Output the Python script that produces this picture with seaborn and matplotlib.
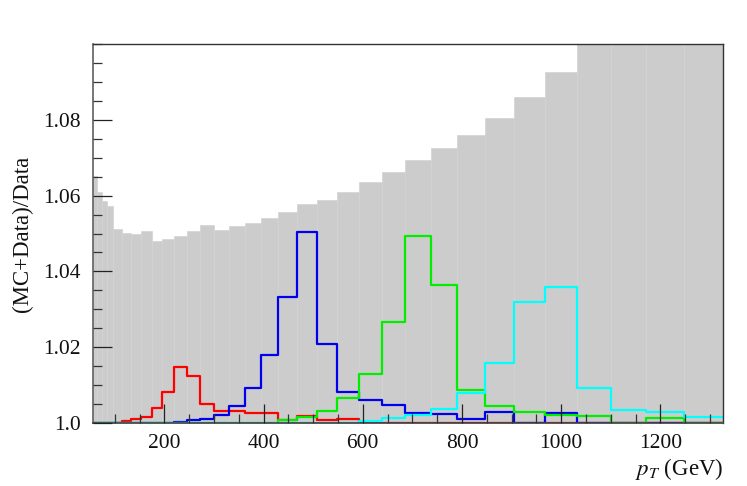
import numpy as np
import pandas as pd
import matplotlib
matplotlib.use('Agg')
import matplotlib.pyplot as plt
import seaborn as sns
from matplotlib.ticker import MultipleLocator, FixedLocator, FixedFormatter

# jet pT bin edges (GeV)
edges = [56, 64, 74, 84, 97, 114, 133, 153, 174, 196, 220, 245, 272, 300, 330,
         362, 395, 430, 468, 507, 548, 592, 638, 686, 737, 790, 846, 905, 967,
         1032, 1101, 1172, 1248, 1327]

# grey band (upper edge)
band = [1.0652, 1.0611, 1.0586, 1.0574, 1.0511, 1.0502, 1.0499, 1.0508, 1.0481,
        1.0485, 1.0493, 1.0507, 1.0523, 1.0509, 1.0521, 1.0529, 1.0540, 1.0557,
        1.0577, 1.0590, 1.0611, 1.0635, 1.0663, 1.0694, 1.0727, 1.0761, 1.0805,
        1.0860, 1.0926, 1.105, 1.118, 1.132, 1.148]

red = [1.0, 1.0, 1.0, 1.0, 1.0, 1.0005, 1.0009, 1.0016, 1.0038, 1.0082, 1.0148,
       1.0125, 1.0049, 1.0032, 1.0030, 1.0025, 1.0025, 1.0007, 1.0018, 1.0007,
       1.0010, 1.0, 1.0, 1.0, 1.0, 1.0, 1.0, 1.0, 1.0, 1.0, 1.0, 1.0, 1.0]

blue = [1.0, 1.0, 1.0, 1.0, 1.0, 1.0, 1.0, 1.0, 1.0, 1.0, 1.0003, 1.0007, 1.0011,
        1.0021, 1.0044, 1.0091, 1.0178, 1.0333, 1.0505, 1.0208, 1.0082, 1.0060,
        1.0048, 1.0027, 1.0022, 1.0010, 1.0028, 1.0, 1.0025, 1.0, 1.0, 1.0, 1.0]

green = [1.0, 1.0, 1.0, 1.0, 1.0, 1.0, 1.0, 1.0, 1.0, 1.0, 1.0, 1.0, 1.0, 1.0,
         1.0, 1.0, 1.0, 1.0007, 1.0016, 1.0030, 1.0066, 1.0130, 1.0267, 1.0494,
         1.0364, 1.0087, 1.0044, 1.0028, 1.0020, 1.0019, 1.0, 1.0012, 1.0]

cyan = [1.0] * 21 + [1.0005, 1.0012, 1.0021, 1.0036, 1.0080, 1.0159, 1.0318,
                     1.0358, 1.0091, 1.0034, 1.0029, 1.0016]

sns.set_theme(style='ticks')
plt.rcParams['font.family'] = ['Liberation Serif', 'DejaVu Serif']
plt.rcParams['mathtext.fontset'] = 'stix'

fig = plt.figure(figsize=(7.47, 4.86), dpi=100)
ax = fig.add_axes([0.1245, 0.13, 0.8438, 0.7788])

edges_a = np.array(edges)
widths = np.diff(edges_a)
ax.bar(edges_a[:-1], np.array(band) - 0.99, width=widths, bottom=0.99,
       align='edge', color='#cccccc', edgecolor='#d3d3d3', linewidth=0.5)

for vals, col in [(red, '#ff0000'), (blue, '#0000ee'), (green, '#00ee00'), (cyan, '#00ffff')]:
    df = pd.DataFrame({'pt': edges, 'ratio': vals + [vals[-1]]})
    sns.lineplot(data=df, x='pt', y='ratio', ax=ax, color=col, lw=1.6,
                 drawstyle='steps-post', estimator=None, sort=False)

ax.set_xlim(56, 1327)
ax.set_ylim(1.0, 1.1)
ax.set_axisbelow(False)

ax.xaxis.set_major_locator(FixedLocator([200, 400, 600, 800, 1000, 1200]))
ax.xaxis.set_minor_locator(MultipleLocator(50))
ax.yaxis.set_major_locator(FixedLocator([1.0, 1.02, 1.04, 1.06, 1.08]))
ax.yaxis.set_major_formatter(FixedFormatter(['1.0', '1.02', '1.04', '1.06', '1.08']))
ax.yaxis.set_minor_locator(MultipleLocator(0.005))

ax.tick_params(which='major', direction='in', length=13.5, width=0.9,
               color='#222222', labelsize=15.5, labelcolor='#111111')
ax.tick_params(which='minor', direction='in', length=6.5, width=0.9, color='#333333')
ax.tick_params(axis='x', which='major', pad=8)
ax.tick_params(axis='y', which='major', pad=9)

for side in ['top', 'right']:
    ax.spines[side].set_color('#333333')
    ax.spines[side].set_linewidth(1.0)
ax.spines['left'].set_color('#666666')
ax.spines['bottom'].set_color('#444444')

ax.set_xlabel('$p_T$ (GeV)', loc='right', fontsize=16.5, labelpad=2, color='#111111')
ax.set_ylabel('(MC+Data)/Data', fontsize=16.5, labelpad=7, color='#111111')

fig.savefig('out.png', dpi=100)
